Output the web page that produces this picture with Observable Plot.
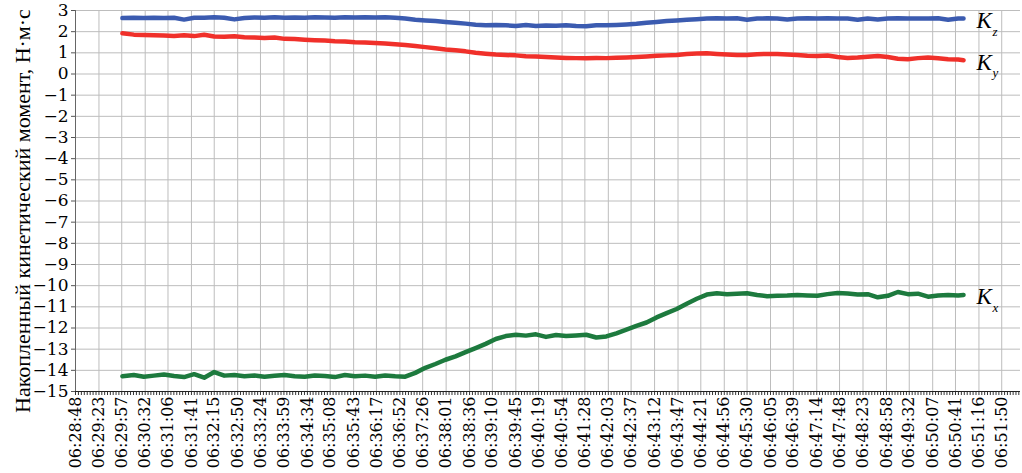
<!DOCTYPE html>
<html>
<head>
<meta charset="utf-8">
<script src="https://cdn.jsdelivr.net/npm/d3@7"></script>
<script src="https://cdn.jsdelivr.net/npm/@observablehq/plot@0.6"></script>
<style>
  html, body { margin: 0; padding: 0; background: #fff; }
</style>
</head>
<body>
<div id="chart"></div>
<script>
const tickLabels = [
  "06:28:48","06:29:23","06:29:57","06:30:32","06:31:06","06:31:41","06:32:15","06:32:50",
  "06:33:24","06:33:59","06:34:34","06:35:08","06:35:43","06:36:17","06:36:52","06:37:26",
  "06:38:01","06:38:36","06:39:10","06:39:45","06:40:19","06:40:54","06:41:28","06:42:03",
  "06:42:37","06:43:12","06:43:47","06:44:21","06:44:56","06:45:30","06:46:05","06:46:39",
  "06:47:14","06:47:48","06:48:23","06:48:58","06:49:32","06:50:07","06:50:41","06:51:16",
  "06:51:50"
];
const yTicks = [-15,-14,-13,-12,-11,-10,-9,-8,-7,-6,-5,-4,-3,-2,-1,0,1,2,3];

const times = [
  "06:29:58","06:30:15","06:30:30","06:30:45",
  "06:31:00","06:31:15","06:31:30","06:31:45",
  "06:32:00","06:32:15","06:32:30","06:32:45",
  "06:33:00","06:33:15","06:33:30","06:33:45",
  "06:34:00","06:34:15","06:34:30","06:34:45",
  "06:35:00","06:35:15","06:35:30","06:35:45",
  "06:36:00","06:36:15","06:36:30","06:36:45",
  "06:37:00","06:37:15","06:37:30","06:37:45",
  "06:38:00","06:38:15","06:38:30","06:38:45",
  "06:39:00","06:39:15","06:39:30","06:39:45",
  "06:40:00","06:40:15","06:40:30","06:40:45",
  "06:41:00","06:41:15","06:41:30","06:41:45",
  "06:42:00","06:42:15","06:42:30","06:42:45",
  "06:43:00","06:43:15","06:43:30","06:43:45",
  "06:44:00","06:44:15","06:44:30","06:44:45",
  "06:45:00","06:45:15","06:45:30","06:45:45",
  "06:46:00","06:46:15","06:46:30","06:46:45",
  "06:47:00","06:47:15","06:47:30","06:47:45",
  "06:48:00","06:48:15","06:48:30","06:48:45",
  "06:49:00","06:49:15","06:49:30","06:49:45",
  "06:50:00","06:50:15","06:50:30","06:50:45",
  "06:50:53"
];

const kz = [
  2.64, 2.66, 2.65, 2.66,
  2.64, 2.66, 2.57, 2.66,
  2.66, 2.68, 2.66, 2.58,
  2.65, 2.67, 2.66, 2.68,
  2.66, 2.67, 2.66, 2.68,
  2.67, 2.66, 2.68, 2.67,
  2.68, 2.67, 2.68, 2.66,
  2.62, 2.56, 2.53, 2.50,
  2.46, 2.42, 2.38, 2.33,
  2.30, 2.32, 2.30, 2.27,
  2.31, 2.27, 2.29, 2.28,
  2.30, 2.27, 2.26, 2.30,
  2.30, 2.32, 2.34, 2.37,
  2.42, 2.46, 2.50, 2.53,
  2.56, 2.59, 2.62, 2.63,
  2.62, 2.63, 2.56, 2.62,
  2.63, 2.62, 2.57, 2.62,
  2.63, 2.62, 2.63, 2.62,
  2.62, 2.56, 2.62, 2.58,
  2.62, 2.63, 2.62, 2.62,
  2.62, 2.63, 2.56, 2.62,
  2.62
];

const ky = [
  1.92, 1.86, 1.84, 1.83,
  1.82, 1.80, 1.83, 1.79,
  1.85, 1.77, 1.76, 1.78,
  1.74, 1.73, 1.70, 1.72,
  1.66, 1.65, 1.62, 1.60,
  1.58, 1.55, 1.54, 1.50,
  1.49, 1.46, 1.44, 1.40,
  1.37, 1.32, 1.27, 1.22,
  1.16, 1.12, 1.07, 1.00,
  0.96, 0.92, 0.90, 0.88,
  0.84, 0.83, 0.80, 0.78,
  0.76, 0.75, 0.74, 0.76,
  0.75, 0.77, 0.78, 0.80,
  0.83, 0.86, 0.88, 0.90,
  0.95, 0.97, 0.98, 0.95,
  0.92, 0.90, 0.90, 0.93,
  0.95, 0.95, 0.92, 0.90,
  0.86, 0.85, 0.87, 0.80,
  0.76, 0.78, 0.82, 0.85,
  0.80, 0.72, 0.70, 0.75,
  0.78, 0.74, 0.70, 0.68,
  0.65
];

const kx = [
  -14.28, -14.22, -14.30, -14.25,
  -14.20, -14.27, -14.32, -14.18,
  -14.35, -14.08, -14.25, -14.22,
  -14.28, -14.24, -14.30, -14.26,
  -14.22, -14.28, -14.30, -14.24,
  -14.27, -14.32, -14.22, -14.28,
  -14.25, -14.30, -14.24, -14.28,
  -14.30, -14.12, -13.88, -13.70,
  -13.50, -13.34, -13.14, -12.95,
  -12.75, -12.52, -12.38, -12.32,
  -12.36, -12.30, -12.42, -12.33,
  -12.38, -12.35, -12.32, -12.45,
  -12.40, -12.25, -12.08, -11.90,
  -11.74, -11.50, -11.30, -11.10,
  -10.85, -10.62, -10.42, -10.36,
  -10.40, -10.38, -10.36, -10.44,
  -10.50, -10.48, -10.47, -10.44,
  -10.46, -10.48, -10.40, -10.35,
  -10.37, -10.42, -10.40, -10.55,
  -10.48, -10.30, -10.40, -10.38,
  -10.52, -10.46, -10.44, -10.46,
  -10.44
];

const seriesNames = ["z", "y", "x"];
const seriesColors = ["#3b5bb0", "#f0302a", "#1d7a3e"];
const yLabel = "Накопленный кинетический момент, Н·м·с";
const xStart = "06:28:48";
const xEnd = "06:52:18";

const parse = d3.utcParse("%H:%M:%S");
const fmt = d3.utcFormat("%H:%M:%S");
const seriesValues = [kz, ky, kx];
const rows = [];
seriesValues.forEach((vals, s) => {
  vals.forEach((v, i) => rows.push({t: parse(times[i]), v, s: seriesNames[s]}));
});
const tickDates = tickLabels.map(parse);
const minorTicks = [];
for (let i = 0; i < tickDates.length - 1; i++) {
  const a = +tickDates[i], b = +tickDates[i + 1];
  for (let k = 0; k < 8; k++) minorTicks.push(new Date(a + (b - a) * k / 8));
}
{
  const last = +tickDates[tickDates.length - 1];
  const step = (last - +tickDates[tickDates.length - 2]) / 8;
  for (let t = last; t <= +parse(xEnd); t += step) minorTicks.push(new Date(t));
}
const minus = d => d < 0 ? "\u2212" + Math.abs(d) : String(d);

const chart = Plot.plot({
  width: 1022,
  height: 473,
  marginLeft: 75,
  marginRight: 2,
  marginTop: 10,
  marginBottom: 82,
  style: {fontFamily: "'DejaVu Serif', serif", fontSize: "18px", background: "#fff", color: "#000"},
  x: {type: "utc", domain: [parse(xStart), parse(xEnd)]},
  y: {domain: [-15, 3]},
  color: {domain: seriesNames, range: seriesColors},
  marks: [
    Plot.gridY(yTicks, {stroke: "#bdbdbd", strokeOpacity: 1}),
    Plot.gridX(tickDates, {stroke: "#bdbdbd", strokeOpacity: 1}),
    Plot.axisY(yTicks, {tickFormat: minus, tickSize: 4, tickPadding: 3, fontSize: 17, label: null, stroke: "#555"}),
    Plot.axisX(tickDates, {tickRotate: -90, tickFormat: fmt, tickSize: 0, tickPadding: 5, fontSize: 16, label: null}),
    Plot.axisX(minorTicks, {tickSize: 4, fill: "none", label: null, stroke: "#333"}),
    Plot.ruleX([parse(xStart)], {stroke: "#666"}),
    Plot.ruleY([-15], {stroke: "#222"}),
    Plot.line(rows, {x: "t", y: "v", z: "s", stroke: "s", strokeWidth: 4.5, curve: "linear"}),
    Plot.text(rows, Plot.selectLast({x: "t", y: "v", z: "s", text: () => "K", dx: 13, dy: 2, textAnchor: "start", fontStyle: "italic", fontSize: 23, fontFamily: "'Liberation Serif', serif"})),
    Plot.text(rows, Plot.selectLast({x: "t", y: "v", z: "s", text: "s", dx: 29, dy: 13, textAnchor: "start", fontStyle: "italic", fontSize: 13, fontFamily: "'Liberation Serif', serif"})),
    Plot.text([yLabel], {frameAnchor: "left", textAnchor: "middle", rotate: -90, dx: -53, dy: 10, fontSize: 22, fontFamily: "'Liberation Serif', serif"})
  ]
});
document.getElementById("chart").appendChild(chart);
</script>
</body>
</html>
